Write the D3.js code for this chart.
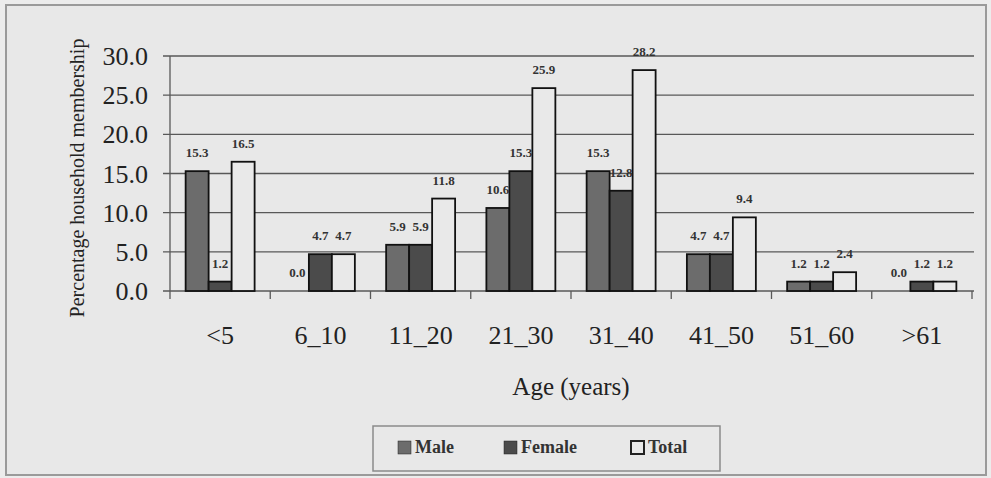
<!DOCTYPE html>
<html>
<head>
<meta charset="utf-8">
<script src="https://cdn.jsdelivr.net/npm/d3@7"></script>
<style>
html,body{margin:0;padding:0;background:#ececec;}
svg{display:block;}
</style>
</head>
<body>
<svg id="chart" width="991" height="478"></svg>
<script>
const categories = ["<5","6_10","11_20","21_30","31_40","41_50","51_60",">61"];
const seriesNames = ["Male","Female","Total"];
const maleValues   = [15.3, 0.0, 5.9, 10.6, 15.3, 4.7, 1.2, 0.0];
const femaleValues = [1.2, 4.7, 5.9, 15.3, 12.8, 4.7, 1.2, 1.2];
const totalValues  = [16.5, 4.7, 11.8, 25.9, 28.2, 9.4, 2.4, 1.2];
const yTicks = [0, 5, 10, 15, 20, 25, 30];

const seriesValues = {Male: maleValues, Female: femaleValues, Total: totalValues};
const colors = {Male: "#6c6c6c", Female: "#4b4b4b", Total: "#e9e9e9"};

const svg = d3.select("#chart");
const serif = "'Liberation Serif','Times New Roman',serif";

// outer frame
svg.append("rect").attr("x",6).attr("y",5).attr("width",980).attr("height",470)
  .attr("fill","#e8e8e8").attr("stroke","#9a9a9a").attr("stroke-width",2);

const pLeft = 170, pRight = 972, pTop = 56, pBottom = 291;

const x0 = d3.scaleBand().domain(categories).range([pLeft, pRight]).padding(0);
const x1 = d3.scaleBand().domain(seriesNames).range([0, x0.bandwidth()]).paddingInner(0).paddingOuter(0.68);
const y = d3.scaleLinear().domain([0, 30]).range([pBottom, pTop]);

// gridlines
svg.append("g").selectAll("line").data(yTicks).join("line")
  .attr("x1", pLeft - 7).attr("x2", pRight + 2)
  .attr("y1", d => y(d)).attr("y2", d => y(d))
  .attr("stroke", "#585858").attr("stroke-width", 1.3);

// y axis line
svg.append("line").attr("x1",pLeft).attr("x2",pLeft).attr("y1",pTop).attr("y2",pBottom+8)
  .attr("stroke","#585858").attr("stroke-width",1.3);

// x tick marks at category boundaries
const boundaries = categories.map(c => x0(c)).concat([pRight]);
svg.append("g").selectAll("line").data(boundaries.slice(1)).join("line")
  .attr("x1", d => d).attr("x2", d => d).attr("y1", pBottom).attr("y2", pBottom + 8)
  .attr("stroke","#585858").attr("stroke-width",1.3);

// y tick labels
svg.append("g").selectAll("text").data(yTicks).join("text")
  .attr("x", 148).attr("y", d => y(d)).attr("dy","0.35em")
  .attr("text-anchor","end").attr("font-family", serif).attr("font-size", 26)
  .attr("fill","#222").text(d => d3.format(".1f")(d));

// y title
svg.append("text").attr("transform","translate(84,178) rotate(-90)")
  .attr("text-anchor","middle").attr("font-family", serif).attr("font-size", 20)
  .attr("fill","#222").text("Percentage household membership");

// bars
const groups = svg.append("g").selectAll("g").data(categories).join("g")
  .attr("transform", c => `translate(${x0(c)},0)`);

groups.selectAll("rect").data((c,i) => seriesNames.map(s => ({s, v: seriesValues[s][i]})))
  .join("rect")
  .attr("x", d => x1(d.s)).attr("width", x1.bandwidth())
  .attr("y", d => y(d.v)).attr("height", d => y(0) - y(d.v))
  .attr("fill", d => colors[d.s]).attr("stroke","#111").attr("stroke-width",1.8);

groups.selectAll("text").data((c,i) => seriesNames.map(s => ({s, v: seriesValues[s][i]})))
  .join("text")
  .attr("x", d => x1(d.s) + x1.bandwidth()/2).attr("y", d => y(d.v) - 14)
  .attr("text-anchor","middle").attr("font-family", serif).attr("font-size", 13)
  .attr("font-weight","bold").attr("fill","#333")
  .text(d => d3.format(".1f")(d.v));

// x labels
svg.append("g").selectAll("text").data(categories).join("text")
  .attr("x", c => x0(c) + x0.bandwidth()/2).attr("y", 344)
  .attr("text-anchor","middle").attr("font-family", serif).attr("font-size", 26)
  .attr("fill","#222").text(c => c);

// x title
svg.append("text").attr("x", (pLeft+pRight)/2).attr("y", 395)
  .attr("text-anchor","middle").attr("font-family", serif).attr("font-size", 25)
  .attr("fill","#222").text("Age (years)");

// legend
svg.append("rect").attr("x",373).attr("y",426).attr("width",347).attr("height",45)
  .attr("fill","#e8e8e8").attr("stroke","#8a8a8a").attr("stroke-width",1.5);
const legendX = [398, 504, 631];
const lg = svg.append("g").selectAll("g").data(seriesNames).join("g")
  .attr("transform", (s,i) => `translate(${legendX[i]},441)`);
lg.append("rect").attr("width",13).attr("height",13)
  .attr("fill", s => colors[s]).attr("stroke","#222").attr("stroke-width", s => s === "Total" ? 2 : 0.5);
lg.append("text").attr("x",17).attr("y",12).attr("font-family", serif)
  .attr("font-size",18).attr("font-weight","bold").attr("fill","#333").text(s => s);
</script>
</body>
</html>
